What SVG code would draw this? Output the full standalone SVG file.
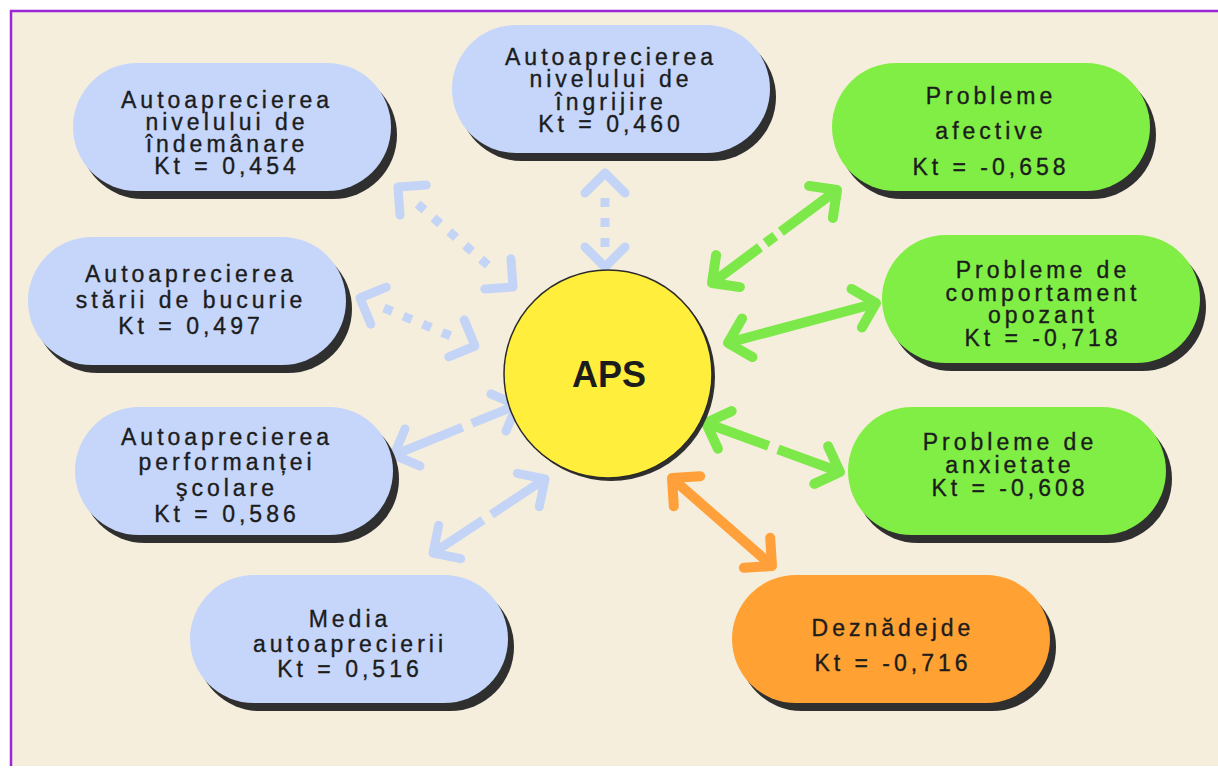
<svg xmlns="http://www.w3.org/2000/svg" width="1218" height="769" viewBox="0 0 1218 769">
<style>
.bg{fill:#F6EEDC}
.frame{fill:none;stroke:#9B27D6;stroke-width:2.5}
.shadow{fill:#2F2F2F}
.blue{fill:#C5D6FA}
.green{fill:#80EE44}
.orange{fill:#FFA133}
.sun{fill:#FFEF3C;stroke:#2A2A2A;stroke-width:1.5}
text{font-family:"Liberation Sans",Arial,sans-serif;font-size:23px;letter-spacing:4px;fill:#1C1C1C;stroke:#1C1C1C;stroke-width:0.35;text-anchor:middle}
text.aps{font-size:36px;font-weight:bold;letter-spacing:0;stroke:none}
.ln{fill:none;stroke-linecap:butt}
.hd{fill:none;stroke-linecap:round;stroke-linejoin:round}
.cb{stroke:#C3D4F7;stroke-width:9}
.cg{stroke:#7DE84A;stroke-width:10}
.co{stroke:#FFA03A;stroke-width:10}
</style>

<!-- page and frame -->
<rect x="0" y="0" width="1218" height="769" fill="#FFFFFF"/>
<rect class="bg" x="11" y="11" width="1207" height="755"/>
<path class="frame" d="M11,766 L11,11 L1218,11"/>

<!-- connectors -->
<g id="connectors">
  <!-- dotted, light blue -->
  <path class="ln cb" d="M417.6,204.1 L493.4,269.9" stroke-dasharray="9 12"/>
  <path class="hd cb" d="M400.0,215.2 L398,187 L426.2,185.0"/>
  <path class="hd cb" d="M484.8,289.0 L513,287 L511.0,258.8"/>

  <path class="ln cb" d="M605,198 L605,247" stroke-dasharray="9 11"/>
  <path class="hd cb" d="M585,193 L605,173 L625,193"/>
  <path class="hd cb" d="M585,247 L605,267 L625,247"/>

  <path class="ln cb" d="M384.0,308.0 L451.0,336.0" stroke-dasharray="9 12"/>
  <path class="hd cb" d="M370.8,324.2 L360,298 L386.2,287.2"/>
  <path class="hd cb" d="M448.8,356.8 L475,346 L464.2,319.8"/>

  <!-- dashed, light blue -->
  <path class="ln cb" d="M394,455 L517,405" stroke-dasharray="74 10 100"/>
  <path class="hd cb" d="M420.0,466.0 L394,455 L405.0,429.0"/>
  <path class="hd cb" d="M506.0,431.0 L517,405 L491.0,394.0"/>

  <path class="ln cb" d="M433,553 L545,479" stroke-dasharray="60 10 100"/>
  <path class="hd cb" d="M460.7,558.7 L433,553 L438.7,525.3"/>
  <path class="hd cb" d="M539.3,506.7 L545,479 L517.3,473.3"/>

  <!-- green -->
  <path class="ln cg" d="M837,190 L712,283" stroke-dasharray="70 7 12 7 100"/>
  <path class="hd cg" d="M809.1,185.9 L837,190 L832.9,217.9"/>
  <path class="hd cg" d="M716.1,255.1 L712,283 L739.9,287.1"/>

  <path class="ln cg" d="M873,304 L731,342"/>
  <path class="hd cg" d="M851.5,288.9 L876,303 L861.9,327.5"/>
  <path class="hd cg" d="M742.1,318.5 L728,343 L752.5,357.1"/>

  <path class="ln cg" d="M840,472 L706,423" stroke-dasharray="66 10 100"/>
  <path class="hd cg" d="M828.1,446.3 L840,472 L814.3,483.9"/>
  <path class="hd cg" d="M731.7,411.1 L706,423 L717.9,448.7"/>

  <!-- orange -->
  <path class="ln co" d="M770,564 L674,480"/>
  <path class="hd co" d="M770.2,537.8 L772,566 L743.8,567.8"/>
  <path class="hd co" d="M700.2,476.2 L672,478 L673.8,506.2"/>
</g>

<!-- centre -->
<g id="aps">
  <circle class="shadow" cx="611" cy="377" r="104"/>
  <circle class="sun" cx="608" cy="374" r="104"/>
  <text class="aps" x="609" y="387">APS</text>
</g>

<g id="indemanare">
  <rect class="shadow" x="79" y="71" width="318" height="128" rx="64"/>
  <rect class="blue" x="73" y="63" width="318" height="128" rx="64"/>
  <text x="227" y="108">Autoaprecierea</text>
  <text x="227" y="130">nivelului de</text>
  <text x="227" y="152">îndemânare</text>
  <text x="227" y="174">Kt = 0,454</text>
</g>

<g id="ingrijire">
  <rect class="shadow" x="458" y="33" width="318" height="128" rx="64"/>
  <rect class="blue" x="452" y="25" width="318" height="128" rx="64"/>
  <text x="611" y="65">Autoaprecierea</text>
  <text x="611" y="87">nivelului de</text>
  <text x="611" y="110">îngrijire</text>
  <text x="611" y="132">Kt = 0,460</text>
</g>

<g id="afective">
  <rect class="shadow" x="838" y="71" width="318" height="128" rx="64"/>
  <rect class="green" x="832" y="63" width="318" height="128" rx="64"/>
  <text x="991" y="104">Probleme</text>
  <text x="991" y="139">afective</text>
  <text x="991" y="175">Kt = -0,658</text>
</g>

<g id="comportament">
  <rect class="shadow" x="888" y="243" width="318" height="128" rx="64"/>
  <rect class="green" x="882" y="235" width="318" height="128" rx="64"/>
  <text x="1043" y="278">Probleme de</text>
  <text x="1043" y="301">comportament</text>
  <text x="1043" y="323">opozant</text>
  <text x="1043" y="346">Kt = -0,718</text>
</g>

<g id="bucurie">
  <rect class="shadow" x="34" y="245" width="318" height="128" rx="64"/>
  <rect class="blue" x="28" y="237" width="318" height="128" rx="64"/>
  <text x="191" y="282">Autoaprecierea</text>
  <text x="191" y="308">stării de bucurie</text>
  <text x="191" y="334">Kt = 0,497</text>
</g>

<g id="performanta">
  <rect class="shadow" x="81" y="415" width="318" height="128" rx="64"/>
  <rect class="blue" x="75" y="407" width="318" height="128" rx="64"/>
  <text x="227" y="445">Autoaprecierea</text>
  <text x="227" y="470">performanței</text>
  <text x="227" y="496">şcolare</text>
  <text x="227" y="522">Kt = 0,586</text>
</g>

<g id="media">
  <rect class="shadow" x="196" y="583" width="318" height="128" rx="64"/>
  <rect class="blue" x="190" y="575" width="318" height="128" rx="64"/>
  <text x="350" y="627">Media</text>
  <text x="350" y="652">autoaprecierii</text>
  <text x="350" y="677">Kt = 0,516</text>
</g>

<g id="anxietate">
  <rect class="shadow" x="854" y="415" width="318" height="128" rx="64"/>
  <rect class="green" x="848" y="407" width="318" height="128" rx="64"/>
  <text x="1010" y="450">Probleme de</text>
  <text x="1010" y="473">anxietate</text>
  <text x="1010" y="496">Kt = -0,608</text>
</g>

<g id="deznadejde">
  <rect class="shadow" x="738" y="583" width="318" height="128" rx="64"/>
  <rect class="orange" x="732" y="575" width="318" height="128" rx="64"/>
  <text x="893" y="636">Deznădejde</text>
  <text x="893" y="671">Kt = -0,716</text>
</g>
</svg>
